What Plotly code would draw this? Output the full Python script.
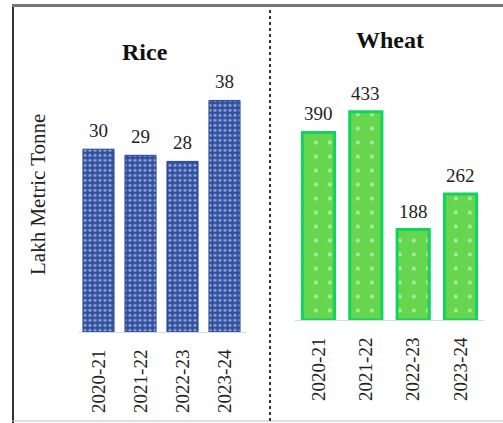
import plotly.graph_objects as go

years = ["2020-21", "2021-22", "2022-23", "2023-24"]
rice = [30, 29, 28, 38]
wheat = [390, 433, 188, 262]

W, H = 503, 423


def px(x):
    return x / W


def py(y):
    return 1 - y / H


SERIF = "Liberation Serif, Times New Roman, serif"
BLUE = "#2F4FA0"
GREEN = "#66D64F"

fig = go.Figure()
fig.add_bar(
    x=years, y=rice, xaxis="x", yaxis="y", width=0.74,
    marker=dict(color=BLUE, line=dict(color="#2A4590", width=1),
                pattern=dict(shape=".", fgcolor="white", size=5, solidity=0.3, fillmode="overlay")),
    hoverinfo="skip",
)
fig.add_bar(
    x=years, y=wheat, xaxis="x2", yaxis="y2", width=0.68,
    marker=dict(color=GREEN, line=dict(color="#12D35E", width=3),
                pattern=dict(shape=".", fgcolor="white", size=14, solidity=0.06, fillmode="overlay")),
    hoverinfo="skip",
)

ann = []
for x, v in zip(years, rice):
    ann.append(dict(x=x, y=v, xref="x", yref="y", text=str(v), showarrow=False,
                    yanchor="bottom", yshift=6, font=dict(family=SERIF, size=19, color="#222")))
for x, v in zip(years, wheat):
    ann.append(dict(x=x, y=v, xref="x2", yref="y2", text=str(v), showarrow=False,
                    yanchor="bottom", yshift=6, font=dict(family=SERIF, size=19, color="#222")))
ann.append(dict(x=px(145), y=py(52), xref="paper", yref="paper", text="<b>Rice</b>", showarrow=False,
                xanchor="center", yanchor="middle", font=dict(family=SERIF, size=24, color="#111")))
ann.append(dict(x=px(390), y=py(40), xref="paper", yref="paper", text="<b>Wheat</b>", showarrow=False,
                xanchor="center", yanchor="middle", font=dict(family=SERIF, size=24, color="#111")))
ann.append(dict(x=px(38), y=py(195), xref="paper", yref="paper", text="Lakh Metric Tonne", showarrow=False,
                xanchor="center", yanchor="middle", textangle=-90,
                font=dict(family=SERIF, size=21, color="#222")))

shapes = [
    dict(type="line", xref="paper", yref="paper", x0=px(13), x1=px(13), y0=py(5), y1=py(423),
         line=dict(color="#333", width=2)),
    dict(type="line", xref="paper", yref="paper", x0=px(12), x1=1, y0=py(5.5), y1=py(5.5),
         line=dict(color="#777", width=3)),
    dict(type="line", xref="paper", yref="paper", x0=px(12), x1=1, y0=py(421), y1=py(421),
         line=dict(color="#bbb", width=1)),
    dict(type="line", xref="paper", yref="paper", x0=px(270), x1=px(270), y0=py(10), y1=py(423),
         line=dict(color="#333", width=2, dash="dot")),
]

tickfont = dict(family=SERIF, size=19, color="#222")
fig.update_layout(
    width=W, height=H, margin=dict(l=0, r=0, t=0, b=0),
    paper_bgcolor="white", plot_bgcolor="white", showlegend=False,
    xaxis=dict(domain=[px(77.5), px(245.5)], anchor="y", tickangle=-90, tickfont=tickfont,
               showline=True, linecolor="#d9d9d9", linewidth=1, ticks="outside", ticklen=9,
               tickcolor="rgba(0,0,0,0)", showgrid=False),
    yaxis=dict(domain=[py(332), py(57.8)], range=[0, 45], anchor="x", showticklabels=False,
               showgrid=False, zeroline=False),
    xaxis2=dict(domain=[px(294.8), px(484.2)], anchor="y2", tickangle=-90, tickfont=tickfont,
                showline=True, linecolor="#d9d9d9", linewidth=1, ticks="outside", ticklen=9,
                tickcolor="rgba(0,0,0,0)", showgrid=False),
    yaxis2=dict(domain=[py(320), py(79.5)], range=[0, 500], anchor="x2", showticklabels=False,
                showgrid=False, zeroline=False),
    annotations=ann, shapes=shapes,
)

fig.write_html(
    "out.html",
    config={"displayModeBar": False},
    post_script="document.body.style.margin='0';document.body.style.overflow='hidden';",
)
